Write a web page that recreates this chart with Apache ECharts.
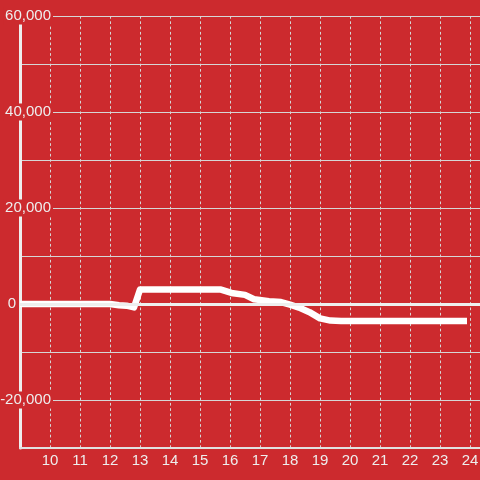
<!DOCTYPE html>
<html>
<head>
<meta charset="utf-8">
<script src="https://cdn.jsdelivr.net/npm/echarts@6/dist/echarts.min.js"></script>
<style>
  html, body { margin: 0; padding: 0; background: #cc2a2e; }
  #chart { width: 480px; height: 480px; }
</style>
</head>
<body>
<div id="chart"></div>
<script>
// hour of day vs value
const hours = [9, 12, 12.3, 12.55, 12.8, 13.0, 15.7, 16.05, 16.5, 16.8, 17.3, 17.7, 18.0, 18.3, 18.65, 19.0, 19.35, 19.7, 23.9];
const values = [0, 0, -250, -350, -700, 3000, 3000, 2300, 1900, 1000, 600, 400, -150, -750, -1700, -3000, -3450, -3550, -3550];
const yLabelValues = [-20000, 20000, 40000, 60000];

const chart = echarts.init(document.getElementById('chart'));

const textColor = '#eeeeee';
const bg = '#cc2a2e';
const font = 'Liberation Sans, Arial, sans-serif';

chart.setOption({
  backgroundColor: bg,
  animation: false,
  grid: { left: 20, right: 0, top: 16, bottom: 32, containLabel: false, outerBoundsMode: 'none' },
  xAxis: {
    type: 'value',
    min: 9,
    max: 24.333,
    interval: 1,
    axisLine: { onZero: false, lineStyle: { color: '#e0e0e0', width: 2 } },
    axisTick: { show: false },
    axisLabel: {
      color: textColor,
      fontSize: 15,
      fontFamily: font,
      margin: 5,
      formatter: (v) => (v === 9 ? '' : String(v))
    },
    splitLine: {
      show: true,
      lineStyle: { color: '#d6d6d6', width: 1, type: [2.7, 2.6] }
    }
  },
  yAxis: [
    {
      type: 'value',
      position: 'left',
      min: -30000,
      max: 60000,
      interval: 10000,
      axisLine: { show: true, lineStyle: { color: '#eeeeee', width: 3 } },
      axisTick: { show: false },
      axisLabel: {
        color: textColor,
        fontSize: 15,
        fontFamily: font,
        margin: 4,
        customValues: [0]
      },
      splitLine: { lineStyle: { color: '#d6d6d6', width: 1 } }
    },
    {
      // labels that sit over the axis line, with a background patch
      type: 'value',
      position: 'left',
      min: -30000,
      max: 60000,
      interval: 10000,
      z: 5,
      axisLine: { show: false },
      axisTick: { show: false },
      splitLine: { show: false },
      axisLabel: {
        color: textColor,
        fontSize: 15,
        fontFamily: font,
        margin: -33,
        backgroundColor: bg,
        padding: [1, 2, 1, 2],
        customValues: yLabelValues,
        formatter: (v) => v.toLocaleString('en-US')
      }
    }
  ],
  series: [
    {
      type: 'line',
      data: hours.map((h, i) => [h, values[i]]),
      symbol: 'none',
      lineStyle: { color: '#ffffff', width: 6.5, join: 'round' },
      z: 3,
      markLine: {
        silent: true,
        symbol: 'none',
        label: { show: false },
        lineStyle: { color: '#eeeeee', width: 3, type: 'solid' },
        data: [{ yAxis: 0 }]
      }
    }
  ]
});
</script>
</body>
</html>
